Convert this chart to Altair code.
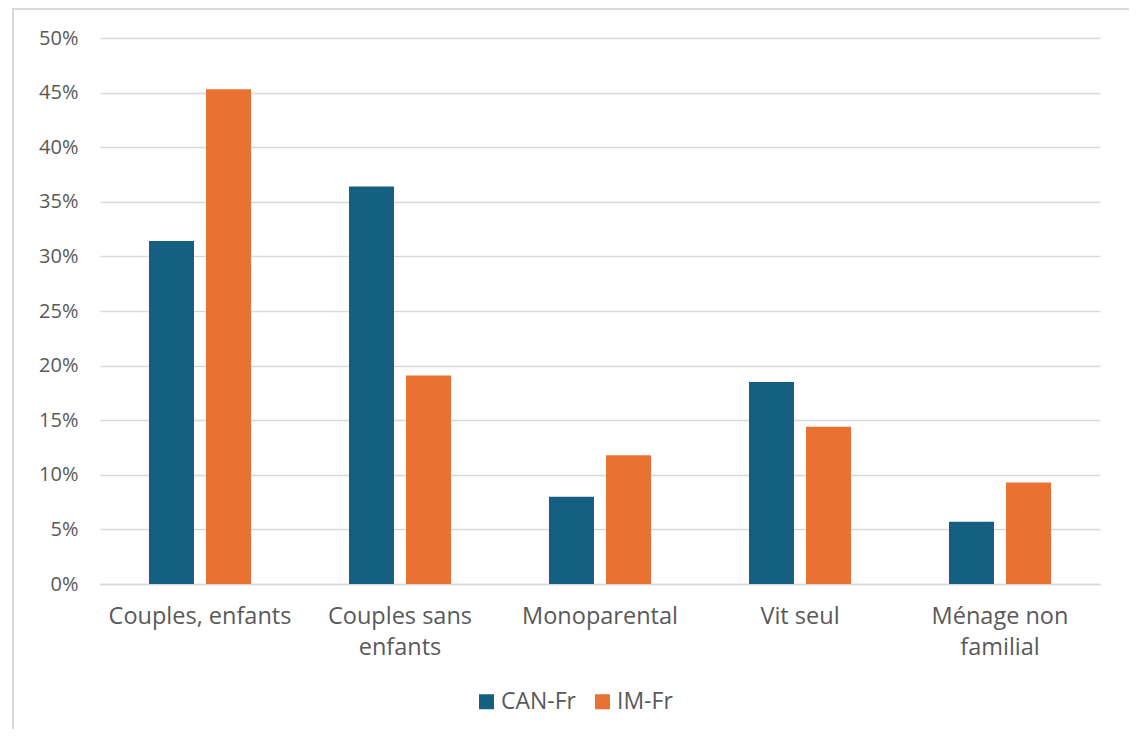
import altair as alt
import pandas as pd

categories = ["Couples, enfants", "Couples sans enfants", "Monoparental", "Vit seul", "Ménage non familial"]
can_fr = [31.4, 36.4, 8.0, 18.5, 5.7]
im_fr = [45.3, 19.1, 11.8, 14.4, 9.3]
series = ["CAN-Fr", "IM-Fr"]
colors = ["#156082", "#E97132"]

rows = []
for c, a, b in zip(categories, can_fr, im_fr):
    rows.append({"cat": c, "serie": "CAN-Fr", "val": a / 100})
    rows.append({"cat": c, "serie": "IM-Fr", "val": b / 100})
df = pd.DataFrame(rows)

FONT = "Open Sans"

label_expr = ("datum.label == 'Couples sans enfants' ? ['Couples sans', 'enfants'] : "
              "datum.label == 'Ménage non familial' ? ['Ménage non', 'familial'] : datum.label")

bars = alt.Chart(df).mark_bar().encode(
    x=alt.X("cat:N", sort=categories, title=None,
            scale=alt.Scale(paddingInner=0.49, paddingOuter=0.245),
            axis=alt.Axis(labelAngle=0, labelExpr=label_expr, labelFontSize=23.5,
                          labelColor="#595959", labelFont=FONT, labelPadding=20,
                          labelLineHeight=31, labelLimit=400, ticks=False,
                          domainColor="#d9d9d9", domainWidth=1.5, grid=False,
                          labelBaseline="top")),
    xOffset=alt.XOffset("serie:N", sort=series,
                        scale=alt.Scale(paddingInner=0.21, paddingOuter=0)),
    y=alt.Y("val:Q", title=None,
            scale=alt.Scale(domain=[0, 0.5]),
            axis=alt.Axis(format=".0%", values=[i / 100 for i in range(0, 51, 5)],
                          labelFontSize=20, labelColor="#595959", labelFont=FONT,
                          labelPadding=22, ticks=False, domain=False,
                          gridColor="#d9d9d9", gridWidth=1.5)),
    color=alt.Color("serie:N", sort=series,
                    scale=alt.Scale(domain=series, range=colors),
                    legend=alt.Legend(title=None, orient="none", legendX=375, legendY=652,
                                      direction="horizontal", symbolType="square",
                                      symbolSize=225, symbolStrokeWidth=0,
                                      labelFontSize=23, labelColor="#595959",
                                      labelFont=FONT, columnPadding=14, labelOffset=3)),
)

border = alt.Chart(alt.Data(values=[{}])).mark_rect(
    fill=None, stroke="#d9d9d9", strokeWidth=2
).encode(
    x=alt.value(-87), x2=alt.value(1030), y=alt.value(-29), y2=alt.value(720)
)

chart = alt.layer(border, bars).properties(
    width=1000, height=546,
    autosize=alt.AutoSizeParams(type="none"),
    padding={"left": 92, "top": 30, "right": 29, "bottom": 145},
    background="white",
).configure_view(stroke=None)

chart.save("out.html", embed_options={"renderer": "svg", "actions": False})
